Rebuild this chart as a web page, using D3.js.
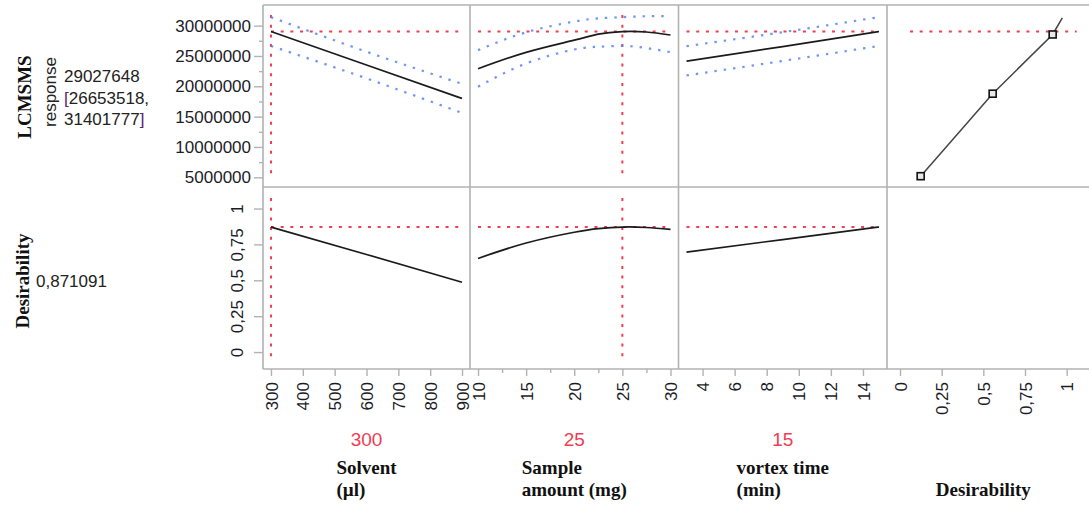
<!DOCTYPE html>
<html><head><meta charset="utf-8">
<script src="https://cdn.jsdelivr.net/npm/d3@7"></script>
<style>
body{margin:0;background:#fff}
svg{display:block}
</style></head><body>
<svg id="chart" width="1089" height="510"></svg>
<script>
// ---- Prediction profiler: LCMSMS response and desirability ----

// Current factor settings and predicted response
const currentSolvent = 300;
const currentSample = 25;
const currentVortex = 15;
const currentResponse = 29027648;
const currentLower = 26653518;
const currentUpper = 31401777;
const currentDesirability = 0.871091;

// Solvent (µl) profile
const solventX = [300, 600, 900];
const solventResp = [29027648, 23500000, 18000000];
const solventUpper = [31401777, 25700000, 20400000];
const solventLower = [26653518, 21300000, 15600000];
const solventDesir = [0.871091, 0.68, 0.486];

// Sample amount (mg) profile
const sampleX = [10, 15, 20, 22.5, 25, 27.5, 30];
const sampleResp = [22900000, 25600000, 27600000, 28600000, 29027648, 28950000, 28450000];
const sampleUpper = [25960000, 28900000, 30670000, 31200000, 31401777, 31550000, 31550000];
const sampleLower = [19930000, 23770000, 26070000, 26510000, 26653518, 26300000, 25630000];
const sampleDesir = [0.652, 0.76, 0.835, 0.86, 0.871091, 0.868, 0.855];

// Vortex time (min) profile
const vortexX = [3, 9, 15];
const vortexResp = [24150000, 26550000, 29027648];
const vortexUpper = [26620000, 28920000, 31401777];
const vortexLower = [21790000, 24180000, 26653518];
const vortexDesir = [0.696, 0.784, 0.871091];

// Desirability function of the response
const desirFnD = [0.124, 0.556, 0.916, 0.974];
const desirFnResp = [5180000, 18780000, 28540000, 31280000];
const desirFnHandles = 3; // first three points carry handles

// Axis ticks
const responseTicks = [5000000, 10000000, 15000000, 20000000, 25000000, 30000000];
const responseTickLabels = ["5000000", "10000000", "15000000", "20000000", "25000000", "30000000"];
const responseMinorTicks = [7500000, 12500000, 17500000, 22500000, 27500000];
const desirTicks = [0, 0.25, 0.5, 0.75, 1];
const desirTickLabels = ["0", "0,25", "0,5", "0,75", "1"];
const solventTicks = [300, 400, 500, 600, 700, 800, 900];
const solventTickLabels = ["300", "400", "500", "600", "700", "800", "900"];
const sampleTicks = [10, 15, 20, 25, 30];
const sampleTickLabels = ["10", "15", "20", "25", "30"];
const sampleMinorTicks = [12.5, 17.5, 22.5, 27.5];
const vortexTicks = [4, 6, 8, 10, 12, 14];
const vortexTickLabels = ["4", "6", "8", "10", "12", "14"];

// Titles
const solventTitle = ["Solvent", "(µl)"];
const sampleTitle = ["Sample", "amount (mg)"];
const vortexTitle = ["vortex time", "(min)"];
const desirTitle = ["Desirability"];

// ---- layout ----
const colEdges = [263, 470, 678.5, 887, 1089];
const rowEdges = [5, 187, 369];
const SANS = "'Liberation Sans', Arial, sans-serif";
const SERIF = "'Liberation Serif', 'Times New Roman', serif";
const RED = "#ef3d52";
const BLUE = "#5585f2";
const GRID = "#b2b2b2";

const svg = d3.select("#chart");

const yResp = d3.scaleLinear().domain([3400000, 33400000]).range([rowEdges[1], rowEdges[0]]);
const yDes = d3.scaleLinear().domain([-0.118, 1.15]).range([rowEdges[2], rowEdges[1]]);

const factors = [
  { xs: solventX, resp: solventResp, up: solventUpper, lo: solventLower, des: solventDesir,
    current: currentSolvent, ticks: solventTicks, labels: solventTickLabels, minor: [],
    title: solventTitle, crosshair: true },
  { xs: sampleX, resp: sampleResp, up: sampleUpper, lo: sampleLower, des: sampleDesir,
    current: currentSample, ticks: sampleTicks, labels: sampleTickLabels, minor: sampleMinorTicks,
    title: sampleTitle, crosshair: true },
  { xs: vortexX, resp: vortexResp, up: vortexUpper, lo: vortexLower, des: vortexDesir,
    current: currentVortex, ticks: vortexTicks, labels: vortexTickLabels, minor: [],
    title: vortexTitle, crosshair: false }
];

// panel grid
const grid = svg.append("g").attr("stroke", GRID).attr("stroke-width", 1.6);
rowEdges.forEach(y => grid.append("line").attr("x1", colEdges[0]).attr("x2", colEdges[4]).attr("y1", y).attr("y2", y));
colEdges.slice(0, 4).forEach(x => grid.append("line").attr("x1", x).attr("x2", x).attr("y1", rowEdges[0]).attr("y2", rowEdges[2]));

function styleAxis(g) {
  g.select(".domain").remove();
  g.selectAll(".tick line").attr("stroke", GRID).attr("stroke-width", 1.4);
  g.selectAll(".tick text").attr("fill", "#1c1c28").style("font-family", SANS).style("font-size", "17px");
}

// bottom axis with rotated labels
function bottomAxis(x, ticks, labels, minor) {
  const g = svg.append("g").attr("transform", `translate(0,${rowEdges[2]})`)
    .call(d3.axisBottom(x).tickValues(ticks).tickSize(7).tickFormat((d, i) => labels[i]));
  styleAxis(g);
  g.selectAll(".tick text")
    .attr("transform", "rotate(-90)")
    .attr("x", -13).attr("y", 0).attr("dy", "0.36em")
    .style("text-anchor", "end");
  if (minor.length) {
    const gm = svg.append("g").attr("transform", `translate(0,${rowEdges[2]})`)
      .call(d3.axisBottom(x).tickValues(minor).tickSize(4).tickFormat(""));
    styleAxis(gm);
  }
}

// left axes
const gy = svg.append("g").attr("transform", `translate(${colEdges[0]},0)`)
  .call(d3.axisLeft(yResp).tickValues(responseTicks).tickSize(9).tickPadding(3)
    .tickFormat((d, i) => responseTickLabels[i]));
styleAxis(gy);
const gym = svg.append("g").attr("transform", `translate(${colEdges[0]},0)`)
  .call(d3.axisLeft(yResp).tickValues(responseMinorTicks).tickSize(4).tickFormat(""));
styleAxis(gym);

const gd = svg.append("g").attr("transform", `translate(${colEdges[0]},0)`)
  .call(d3.axisLeft(yDes).tickValues(desirTicks).tickSize(9).tickFormat((d, i) => desirTickLabels[i]));
styleAxis(gd);
gd.selectAll(".tick text")
  .attr("transform", "rotate(-90)")
  .attr("x", 0).attr("y", -20).attr("dy", 0)
  .style("text-anchor", "middle");

const dashRed = "3,6.7";
const dashBlue = "2.4,7";

function titleBlock(lines, cx) {
  const t = svg.append("text").attr("fill", "#111")
    .style("font-family", SERIF).style("font-weight", "bold").style("font-size", "19px");
  const base = lines.length === 2 ? [474, 496] : [496];
  const spans = lines.map((s, i) => t.append("tspan").attr("y", base[i]).text(s));
  const w = d3.max(spans, s => s.node().getComputedTextLength());
  spans.forEach(s => s.attr("x", cx - w / 2));
}

factors.forEach((f, i) => {
  const lo = d3.min(f.xs), hi = d3.max(f.xs), pad = (hi - lo) / 24;
  const x = d3.scaleLinear().domain([lo - pad, hi + pad]).range([colEdges[i], colEdges[i + 1]]);
  const lineR = d3.line().x(d => x(d[0])).y(d => yResp(d[1])).curve(d3.curveNatural);
  const lineD = d3.line().x(d => x(d[0])).y(d => yDes(d[1])).curve(d3.curveNatural);
  const pts = ys => f.xs.map((v, j) => [v, ys[j]]);

  // reference lines at current settings
  const ref = svg.append("g").attr("stroke", RED).attr("stroke-width", 2).attr("stroke-dasharray", dashRed).attr("fill", "none");
  ref.append("line").attr("x1", x(lo)).attr("x2", x(hi)).attr("y1", yResp(currentResponse)).attr("y2", yResp(currentResponse));
  ref.append("line").attr("x1", x(lo)).attr("x2", x(hi)).attr("y1", yDes(currentDesirability)).attr("y2", yDes(currentDesirability));
  if (f.crosshair) {
    ref.append("line").attr("x1", x(f.current)).attr("x2", x(f.current))
      .attr("y1", rowEdges[0] + 10).attr("y2", rowEdges[1] - 7);
    ref.append("line").attr("x1", x(f.current)).attr("x2", x(f.current))
      .attr("y1", rowEdges[1] + 11).attr("y2", rowEdges[2] - 7);
  }

  // confidence band
  [f.up, f.lo].forEach(arr => svg.append("path").attr("d", lineR(pts(arr)))
    .attr("fill", "none").attr("stroke", BLUE).attr("stroke-width", 2.2)
    .attr("stroke-dasharray", dashBlue).attr("opacity", 0.85));

  // predicted response and desirability traces
  svg.append("path").attr("d", lineR(pts(f.resp))).attr("fill", "none").attr("stroke", "#1b1b1b").attr("stroke-width", 1.7);
  svg.append("path").attr("d", lineD(pts(f.des))).attr("fill", "none").attr("stroke", "#1b1b1b").attr("stroke-width", 1.7);

  bottomAxis(x, f.ticks, f.labels, f.minor);

  const cx = x((lo + hi) / 2);
  svg.append("text").attr("x", cx).attr("y", 446).attr("text-anchor", "middle")
    .attr("fill", RED).style("font-family", SANS).style("font-size", "19px").text(f.current);
  titleBlock(f.title, cx);
});

// desirability function panel
const xD = d3.scaleLinear().domain([-0.078, 1.134]).range([colEdges[3], colEdges[4]]);
const dPts = desirFnD.map((d, j) => [d, desirFnResp[j]]);
svg.append("line").attr("x1", xD(0.06)).attr("x2", xD(1.06))
  .attr("y1", yResp(currentResponse)).attr("y2", yResp(currentResponse))
  .attr("stroke", RED).attr("stroke-width", 2).attr("stroke-dasharray", dashRed);
svg.append("path").attr("d", d3.line().x(d => xD(d[0])).y(d => yResp(d[1]))(dPts))
  .attr("fill", "none").attr("stroke", "#444").attr("stroke-width", 1.5);
svg.selectAll("rect.handle").data(dPts.slice(0, desirFnHandles)).join("rect")
  .attr("class", "handle")
  .attr("x", d => xD(d[0]) - 3.5).attr("y", d => yResp(d[1]) - 3.5)
  .attr("width", 7).attr("height", 7)
  .attr("fill", "#e8e8e8").attr("stroke", "#111").attr("stroke-width", 1.6);
bottomAxis(xD, desirTicks, desirTickLabels, []);
titleBlock(desirTitle, xD(0.5));

// row labels
svg.append("text").attr("transform", "translate(31,97) rotate(-90)").attr("text-anchor", "middle")
  .attr("fill", "#111").style("font-family", SERIF).style("font-weight", "bold").style("font-size", "19px")
  .text("LCMSMS");
svg.append("text").attr("transform", "translate(56,92) rotate(-90)").attr("text-anchor", "middle")
  .attr("fill", "#222").style("font-family", SANS).style("font-size", "17px").text("response");
const rv = svg.append("text").attr("fill", "#222").style("font-family", SANS).style("font-size", "17px");
rv.append("tspan").attr("x", 64).attr("y", 82).text(String(currentResponse));
const l2 = rv.append("tspan").attr("x", 64).attr("y", 104);
l2.append("tspan").attr("fill", "#5a2570").text("[");
l2.append("tspan").text(currentLower + ",");
const l3 = rv.append("tspan").attr("x", 64).attr("y", 125);
l3.append("tspan").text(String(currentUpper));
l3.append("tspan").attr("fill", "#5a2570").text("]");

svg.append("text").attr("transform", "translate(29,281) rotate(-90)").attr("text-anchor", "middle")
  .attr("fill", "#111").style("font-family", SERIF).style("font-weight", "bold").style("font-size", "19px")
  .text("Desirability");
svg.append("text").attr("x", 36).attr("y", 287).attr("fill", "#222")
  .style("font-family", SANS).style("font-size", "17px")
  .text(String(currentDesirability).replace(".", ","));
</script>
</body></html>
